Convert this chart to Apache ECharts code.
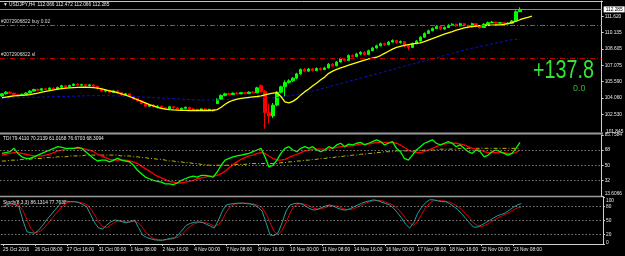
<!DOCTYPE html>
<html><head><meta charset="utf-8">
<script src="https://cdn.jsdelivr.net/npm/echarts@6/dist/echarts.min.js"></script>
<style>html,body{margin:0;padding:0;background:#000;overflow:hidden}#c{width:625px;height:256px}</style>
</head><body><div id="c"></div>
<script>
// ---------- data ----------
const tickLabels = ['25 Oct 2016','26 Oct 08:00','27 Oct 16:00','31 Oct 00:00','1 Nov 08:00','2 Nov 16:00','4 Nov 00:00','7 Nov 08:00','8 Nov 16:00','10 Nov 00:00','11 Nov 08:00','14 Nov 16:00','16 Nov 00:00','17 Nov 08:00','18 Nov 16:00','22 Nov 00:00','23 Nov 08:00'];
const priceTicks = [111.620,110.135,108.605,107.075,105.590,104.060,102.530];
const tdiTicks = [85.7584,68,50,32,13.6066];
const stochTicks = [100,80,50,20,0];
const tdiLevels = [68,50,32];
const stochLevels = [80,50,20];
const bidPrice = 112.285, buyLevel = 110.83, slLevel = 107.77;

const open  = [104.25,104.45,104.60,104.50,104.38,104.30,104.40,104.52,104.70,104.85,104.78,104.92,104.85,104.98,104.90,105.05,105.20,105.10,105.22,105.35,105.25,105.30,105.20,105.28,105.15,104.95,104.70,104.75,104.60,104.72,104.55,104.35,104.45,104.20,104.00,103.80,103.55,103.30,103.40,103.25,103.30,103.15,103.05,103.25,103.15,103.00,103.10,103.20,103.05,103.00,102.90,103.05,102.93,103.00,103.55,103.95,104.30,104.45,104.38,104.50,104.45,104.55,104.48,104.60,104.55,105.20,104.65,102.70,102.40,103.40,104.60,105.10,105.50,105.65,105.90,106.30,106.70,106.55,106.75,106.60,106.80,106.70,106.85,107.20,107.05,107.40,107.70,107.55,108.00,107.90,108.15,108.30,108.10,108.45,108.70,108.90,109.10,109.00,109.25,109.40,109.20,109.30,108.90,108.75,109.10,109.35,109.70,110.05,110.30,110.50,110.70,110.45,110.60,110.80,110.90,110.75,110.95,110.80,110.65,110.95,110.70,110.60,110.90,111.05,111.10,111.00,111.05,110.95,111.00,111.20,112.066];
const close = [104.45,104.60,104.50,104.38,104.30,104.40,104.52,104.70,104.85,104.78,104.92,104.85,104.98,104.90,105.05,105.20,105.10,105.22,105.35,105.25,105.30,105.20,105.28,105.15,104.95,104.70,104.75,104.60,104.72,104.55,104.35,104.45,104.20,104.00,103.80,103.55,103.30,103.40,103.25,103.30,103.15,103.05,103.25,103.15,103.00,103.10,103.20,103.05,103.00,102.90,103.05,102.93,103.00,102.85,103.95,104.30,104.45,104.38,104.50,104.45,104.55,104.48,104.60,104.55,105.00,104.65,102.70,102.40,103.40,104.60,105.10,105.50,105.65,105.90,106.30,106.70,106.55,106.75,106.60,106.80,106.70,106.85,107.20,107.05,107.40,107.70,107.55,108.00,107.90,108.15,108.30,108.10,108.45,108.70,108.90,109.10,109.00,109.25,109.40,109.20,109.30,108.90,108.75,109.10,109.35,109.70,110.05,110.30,110.50,110.70,110.45,110.60,110.80,110.90,110.75,110.95,110.80,110.65,110.95,110.70,110.60,110.90,111.05,111.10,111.00,111.05,110.95,111.00,111.20,112.066,112.285];
const low   = [104.18,104.38,104.42,104.30,104.22,104.25,104.35,104.48,104.65,104.70,104.72,104.78,104.80,104.85,104.85,105.00,105.02,105.05,105.15,105.18,105.20,105.10,105.12,105.05,104.85,104.62,104.60,104.52,104.55,104.45,104.28,104.30,104.10,103.90,103.72,103.45,103.20,103.22,103.18,103.10,103.05,102.95,103.00,103.07,102.93,102.90,103.03,102.97,102.90,102.83,102.85,102.85,102.87,102.77,103.50,103.90,104.22,104.30,104.32,104.38,104.40,104.40,104.42,104.48,104.50,104.55,101.20,101.70,102.20,103.30,104.50,104.20,105.40,105.55,105.80,106.20,106.45,106.50,106.50,106.55,106.60,106.65,106.80,106.95,107.00,107.35,107.45,107.50,107.80,107.85,108.05,108.00,108.05,108.40,108.65,108.85,108.90,108.95,109.20,109.10,109.10,108.80,108.50,108.70,109.05,109.30,109.65,110.00,110.25,110.45,110.35,110.40,110.55,110.75,110.65,110.70,110.70,110.50,110.60,110.60,110.50,110.55,110.85,111.00,110.95,110.95,110.90,110.90,110.95,111.15,112.066];
const high  = [104.52,104.70,104.68,104.55,104.45,104.48,104.60,104.78,104.92,104.95,105.00,105.02,105.05,105.05,105.12,105.28,105.25,105.30,105.42,105.45,105.38,105.35,105.35,105.35,105.20,105.02,104.85,104.82,104.80,104.78,104.60,104.52,104.50,104.25,104.05,103.85,103.62,103.48,103.50,103.40,103.37,103.20,103.33,103.30,103.20,103.17,103.27,103.25,103.13,103.07,103.10,103.13,103.07,103.05,104.02,104.40,104.55,104.55,104.58,104.60,104.62,104.62,104.68,104.70,105.10,105.32,104.80,103.50,103.60,104.70,105.20,105.70,105.80,106.00,106.40,106.80,106.85,106.85,106.85,106.90,106.90,106.95,107.30,107.30,107.50,107.80,107.80,108.10,108.10,108.25,108.40,108.40,108.55,108.80,109.00,109.20,109.20,109.35,109.50,109.45,109.40,109.35,109.00,109.20,109.45,109.80,110.15,110.40,110.60,110.80,110.75,110.70,110.90,111.00,110.95,111.05,111.00,110.85,111.05,111.00,110.75,111.00,111.15,111.20,111.15,111.12,111.10,111.08,111.30,112.20,112.472];
const fastMA = [104.10,104.15,104.20,104.25,104.28,104.30,104.33,104.38,104.45,104.52,104.60,104.68,104.75,104.82,104.88,104.93,104.97,105.00,105.03,105.05,105.06,105.06,105.05,105.02,104.97,104.90,104.82,104.73,104.64,104.55,104.45,104.33,104.20,104.05,103.90,103.75,103.60,103.45,103.32,103.20,103.10,103.03,102.98,102.95,102.93,102.92,102.91,102.90,102.90,102.90,102.90,102.90,102.90,102.91,102.98,103.20,103.48,103.70,103.85,103.95,104.02,104.08,104.12,104.16,104.20,104.25,104.35,104.45,104.52,104.55,104.20,103.70,103.60,103.75,104.00,104.35,104.65,104.90,105.20,105.45,105.75,106.00,106.35,106.55,106.72,106.86,106.98,107.10,107.22,107.34,107.46,107.58,107.68,107.76,107.84,108.00,108.20,108.40,108.60,108.75,108.85,108.95,109.02,109.08,109.12,109.18,109.28,109.42,109.56,109.70,109.85,109.98,110.10,110.22,110.35,110.46,110.56,110.64,110.70,110.74,110.77,110.79,110.81,110.82,110.83,110.84,110.88,110.95,111.05,111.18,111.32,111.45,111.55,111.65];
const slowMA = [104.05,104.06,104.07,104.08,104.09,104.10,104.11,104.12,104.13,104.14,104.15,104.16,104.17,104.18,104.19,104.20,104.21,104.22,104.23,104.24,104.25,104.26,104.27,104.28,104.28,104.28,104.28,104.27,104.26,104.25,104.24,104.23,104.22,104.20,104.18,104.16,104.14,104.12,104.10,104.08,104.06,104.04,104.02,104.00,103.98,103.96,103.94,103.92,103.90,103.88,103.87,103.87,103.87,103.87,103.88,103.90,103.92,103.94,103.96,103.98,104.00,104.02,104.04,104.06,104.08,104.10,104.10,104.08,104.08,104.10,104.14,104.20,104.26,104.32,104.40,104.48,104.56,104.64,104.72,104.80,104.90,105.00,105.10,105.20,105.30,105.40,105.50,105.60,105.70,105.80,105.90,106.00,106.10,106.20,106.30,106.40,106.50,106.60,106.70,106.80,106.90,107.00,107.10,107.20,107.30,107.40,107.50,107.60,107.70,107.80,107.90,108.00,108.10,108.20,108.30,108.40,108.50,108.60,108.68,108.76,108.84,108.92,109.00,109.08,109.16,109.24,109.32,109.40,109.46,109.50,109.53];
const tdiRsi = [64,65,66,70,64,60,58,58,60,62,64,66,68,70,72,71,70,70,70,71,70,66,62,58,55,56,56,54,56,58,56,55,54,50,44,40,36,34,32,31,30,28,28,27,29,32,34,36,37,36,38,38,37,36,42,50,56,58,60,61,62,63,64,66,68,70,60,48,50,56,64,70,72,68,66,70,72,70,72,68,66,68,72,70,74,76,72,75,74,76,77,74,76,78,80,78,74,76,78,70,66,58,56,62,68,72,76,78,80,76,74,76,78,76,72,74,70,66,64,68,66,60,62,66,68,66,64,62,64,70,77];
const tdiSignal = [62,63,64,65,65,64,63,62,61,61,61,62,63,65,67,68,69,70,70,70,70,69,68,66,63,61,59,57,56,56,56,56,55,54,52,49,46,43,40,37,35,33,31,30,29,29,30,31,32,34,35,36,37,37,38,40,43,47,51,54,57,59,61,62,64,65,64,61,58,56,56,57,59,61,63,65,67,68,69,69,69,69,69,70,71,72,72,73,73,74,75,75,75,76,77,77,77,77,77,76,74,71,68,66,65,65,66,68,70,72,74,75,76,76,76,75,74,72,70,69,68,66,65,65,65,65,65,64,64,65,68];
const tdiBase = [55,55,56,56,56,57,57,57,58,58,58,59,59,59,60,60,60,61,61,61,61,62,62,62,62,62,62,62,62,62,61,61,61,60,60,59,59,58,58,57,57,56,55,55,54,54,53,53,52,52,51,51,50,50,50,50,50,50,51,51,51,51,52,52,52,52,52,52,52,52,53,53,54,54,55,55,56,56,57,57,58,58,59,59,60,60,61,61,62,62,63,63,64,64,65,65,66,66,66,67,67,67,67,67,67,67,68,68,68,68,69,69,69,69,69,70,70,70,70,70,70,70,70,70,70,70,70,70,70,70,70];
const stochMain = [79,84,87,84,79,50,26,24,23,30,40,52,62,72,82,90,91,90,90,88,84,79,62,45,34,32,40,47,51,50,47,45,48,51,35,19,14,11,9,8,8,10,12,13,20,30,40,44,46,47,46,42,38,34,50,70,83,85,86,87,87,86,85,83,78,70,45,19,18,24,45,70,83,86,87,85,80,75,72,74,78,81,83,80,76,73,72,75,79,83,87,90,92,94,92,89,86,83,76,66,55,42,34,45,65,78,88,94,94,92,90,90,86,80,74,65,55,45,36,36,40,45,50,55,60,63,66,72,78,83,86];
const stochSignal = [80,81,83,85,83,71,52,33,24,26,31,41,51,62,72,81,88,90,90,89,87,84,75,62,47,37,35,40,46,49,49,47,47,48,45,35,23,15,11,9,8,9,10,12,15,21,30,38,43,46,46,45,42,38,41,51,68,79,85,86,87,87,86,85,82,77,64,45,27,20,29,46,66,80,85,86,84,80,76,74,75,78,81,81,80,76,74,73,75,79,83,87,90,92,93,92,89,86,82,75,66,54,44,40,48,63,77,87,92,93,92,91,89,85,80,73,65,55,45,39,37,40,45,50,55,59,63,67,72,77,78];

// ---------- build ----------
const SLOTS = 151;
const cats = [];
for (let i = 0; i < SLOTS; i++) cats.push('b' + i);
const labelAt = i => (i % 8 === 0 && tickLabels[i / 8]) ? tickLabels[i / 8] : '';
const candles = open.map((o, i) => [o, close[i], low[i], high[i]]);

const FONT = 'Liberation Sans';
const W = 603;
const grids = [
  {left: 0, top: 1, width: W, height: 131},
  {left: 0, top: 135, width: W, height: 61},
  {left: 0, top: 197, width: W, height: 47}
];
const labRich = {
  dn: {padding: [7, 0, 0, 0], fontSize: 4.8, fontFamily: FONT, color: '#e8e8e8'},
  up: {padding: [0, 0, 5, 0], fontSize: 4.8, fontFamily: FONT, color: '#e8e8e8'},
  up2: {padding: [0, 0, 3, 0], fontSize: 4.8, fontFamily: FONT, color: '#e8e8e8'}
};
function xAx(gi, showLabels) {
  return {
    type: 'category', gridIndex: gi, data: cats, boundaryGap: true,
    axisLine: {show: showLabels, lineStyle: {color: '#d0d0d0', width: 1}},
    axisTick: {show: showLabels, alignWithLabel: true, length: 2, interval: (i) => labelAt(i) !== '', lineStyle: {color: '#d0d0d0'}},
    axisLabel: {show: showLabels, interval: 0, align: 'left', margin: 3, color: '#e8e8e8', fontSize: 4.8, fontFamily: FONT,
      formatter: (v, i) => labelAt(i)},
    splitLine: {show: false}
  };
}
function yAx(gi, min, max, ticks, fmt) {
  return {
    type: 'value', gridIndex: gi, position: 'right', min, max, scale: true,
    axisLine: {show: true, lineStyle: {color: '#d0d0d0', width: 1}},
    axisTick: {show: true, length: 2, customValues: ticks, lineStyle: {color: '#d0d0d0'}},
    axisLabel: {show: true, customValues: ticks, formatter: fmt, rich: labRich, color: '#e8e8e8', fontSize: 4.8, fontFamily: FONT, margin: 3},
    splitLine: {show: false}
  };
}
const dotted = {color: '#9a9a9a', width: 0.8, type: [1.5, 2]};
const levelLines = arr => ({symbol: 'none', silent: true, animation: false, label: {show: false},
  lineStyle: dotted, data: arr.map(v => ({yAxis: v}))});

const option = {
  backgroundColor: '#000',
  animation: false,
  grid: grids,
  xAxis: [xAx(0, false), xAx(1, false), xAx(2, true)],
  yAxis: [
    yAx(0, 100.907, 113.058, priceTicks, v => v.toFixed(3)),
    yAx(1, 13.6066, 85.7584, tdiTicks, v => (v === tdiTicks[4] ? '{up|' + v.toFixed(4) + '}' : (v % 1 === 0 ? String(v) : v.toFixed(4)))),
    yAx(2, 0, 100, stochTicks, v => (v === 100 ? '{dn|100}' : v === 0 ? '{up2|0}' : String(v)))
  ],
  series: [
    {type: 'candlestick', xAxisIndex: 0, yAxisIndex: 0, data: candles, barWidth: 2.8,
      itemStyle: {color: '#00ff00', color0: '#ff0000', borderColor: '#00ff00', borderColor0: '#ff0000', borderWidth: 1},
      markLine: {symbol: 'none', silent: true, animation: false, data: [
        {yAxis: bidPrice, lineStyle: {color: '#8a8a8a', type: 'solid', width: 1},
          label: {show: true, position: 'end', distance: 2, formatter: bidPrice.toFixed(3), backgroundColor: '#ffffff', color: '#000', fontSize: 4.8, fontFamily: FONT, padding: [1, 2, 0, 2]}},
        {yAxis: buyLevel, lineStyle: {color: '#2e8b2e', type: [5, 2, 1, 2], width: 1},
          label: {show: true, position: 'insideStartTop', distance: 1, formatter: '#2072906822 buy 0.02', color: '#d8d8d8', fontSize: 4.8, fontFamily: FONT}},
        {yAxis: slLevel, lineStyle: {color: '#c00000', type: [5, 2, 1, 2], width: 1},
          label: {show: true, position: 'insideStartTop', distance: 1, formatter: '#2072906822 sl', color: '#d8d8d8', fontSize: 4.8, fontFamily: FONT}}
      ]}},
    {type: 'line', xAxisIndex: 0, yAxisIndex: 0, data: slowMA, symbol: 'none', lineStyle: {color: '#1010c8', width: 1, type: [3, 2]}},
    {type: 'line', xAxisIndex: 0, yAxisIndex: 0, data: fastMA, symbol: 'none', lineStyle: {color: '#ffff00', width: 1.3}},
    {type: 'line', xAxisIndex: 1, yAxisIndex: 1, data: tdiBase, symbol: 'none', lineStyle: {color: '#b8b800', width: 1, type: [4, 2, 1, 2]}, markLine: levelLines(tdiLevels)},
    {type: 'line', xAxisIndex: 1, yAxisIndex: 1, data: tdiSignal, symbol: 'none', lineStyle: {color: '#ff0000', width: 1.3}},
    {type: 'line', xAxisIndex: 1, yAxisIndex: 1, data: tdiRsi, symbol: 'none', lineStyle: {color: '#00ff00', width: 1.3}},
    {type: 'line', xAxisIndex: 2, yAxisIndex: 2, data: stochSignal, symbol: 'none', lineStyle: {color: '#e00000', width: 1}, markLine: levelLines(stochLevels)},
    {type: 'line', xAxisIndex: 2, yAxisIndex: 2, data: stochMain, symbol: 'none', lineStyle: {color: '#20a0a0', width: 1}}
  ],
  graphic: [
    {type: 'line', shape: {x1: 0, y1: 1.5, x2: W, y2: 1.5}, style: {stroke: '#c8c8c8', lineWidth: 1}, silent: true},
    {type: 'line', shape: {x1: 0, y1: 133.5, x2: W, y2: 133.5}, style: {stroke: '#9a9a9a', lineWidth: 2}, silent: true},
    {type: 'line', shape: {x1: 0, y1: 196.5, x2: W, y2: 196.5}, style: {stroke: '#9a9a9a', lineWidth: 1.5}, silent: true},
    {type: 'text', left: 3, top: 2, style: {text: '▼ USDJPY,H4  112.066 112.472 112.066 112.285', fill: '#e8e8e8', font: '4.8px ' + FONT}},
    {type: 'text', left: 3, top: 136, style: {text: 'TDI 79.4110 70.2139 61.0168 76.6703 68.3094', fill: '#e8e8e8', font: '4.8px ' + FONT}},
    {type: 'text', left: 3, top: 200, style: {text: 'Stoch(8,3,3) 86.1314 77.7638', fill: '#e8e8e8', font: '4.8px ' + FONT}},
    {type: 'text', left: 606, top: 129, style: {text: '101.845', fill: '#e8e8e8', font: '4.8px ' + FONT}},
    {type: 'text', left: 533, top: 58, style: {text: '+137.8', fill: '#32e632', font: '26px ' + FONT}, scaleX: 0.76},
    {type: 'text', left: 573, top: 84, style: {text: '0.0', fill: '#2eb82e', font: '9px ' + FONT}}
  ]
};
echarts.init(document.getElementById('c'), null, {renderer: 'canvas'}).setOption(option);
</script></body></html>
